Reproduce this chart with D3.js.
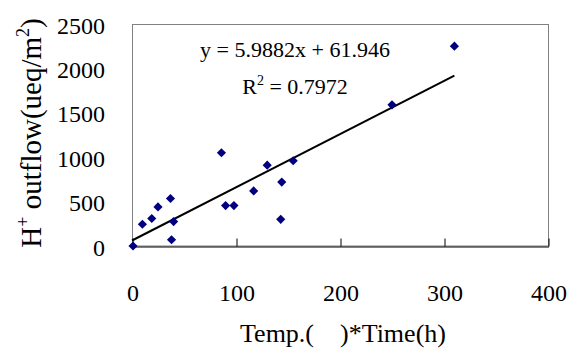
<!DOCTYPE html>
<html>
<head>
<meta charset="utf-8">
<script src="https://cdn.jsdelivr.net/npm/d3@7"></script>
<style>
  body { margin: 0; background: #fff; }
  svg text { font-family: 'Liberation Serif', 'Times New Roman', serif; fill: #000; }
</style>
</head>
<body>
<div id="chart-container"></div>
<script>
// Values
const tempTime = [1, 10, 19, 25, 37, 40, 38, 86, 90, 98, 117, 130, 144, 143, 155, 250, 310];
const hOutflow = [0, 245, 310, 440, 535, 275, 70, 1050, 455, 455, 620, 910, 720, 300, 960, 1590, 2250];
const xTicks = [0, 100, 200, 300, 400];
const yTicks = [0, 500, 1000, 1500, 2000, 2500];
const slope = 5.9882;
const intercept = 61.946;
const rSquared = 0.7972;

const margin = { top: 24, right: 23, bottom: 103, left: 132 };
const width = 571 - margin.left - margin.right;
const height = 349 - margin.top - margin.bottom;

const svg = d3.select('#chart-container')
  .append('svg')
  .attr('width', 571)
  .attr('height', 349)
  .append('g')
  .attr('transform', `translate(${margin.left},${margin.top})`);

const x = d3.scaleLinear().domain([0, 400]).range([0, width]);
const y = d3.scaleLinear().domain([0, 2500]).range([height, 0]);

// plot area border
svg.append('rect')
  .attr('x', 0.5)
  .attr('y', 0.5)
  .attr('width', width)
  .attr('height', height - 0.5)
  .attr('fill', 'none')
  .attr('stroke', '#808080')
  .attr('stroke-width', 1);

// x axis, ticks pointing inward
const xAxis = svg.append('g')
  .attr('transform', `translate(0.5,${height + 0.5})`)
  .call(d3.axisBottom(x).tickValues(xTicks).tickFormat(d3.format('d'))
    .tickSizeInner(-8).tickSizeOuter(0).tickPadding(37));
xAxis.select('.domain').attr('stroke', '#000');
xAxis.selectAll('line').attr('stroke', '#000');
xAxis.selectAll('text').style('font-size', '24px').style('font-family', "'Liberation Serif', serif");

// y axis, labels only
const yAxis = svg.append('g')
  .call(d3.axisLeft(y).tickValues(yTicks).tickFormat(d3.format('d')).tickSize(0).tickPadding(27));
yAxis.select('.domain').remove();
yAxis.selectAll('text')
  .attr('dy', '0.38em')
  .style('font-size', '24px')
  .style('font-family', "'Liberation Serif', serif");

// linear trendline over the data range
const trend = [0, d3.max(tempTime)].map(v => [v, slope * v + intercept]);
svg.append('path')
  .datum(trend)
  .attr('fill', 'none')
  .attr('stroke', '#000')
  .attr('stroke-width', 2)
  .attr('d', d3.line().x(d => x(d[0])).y(d => y(d[1])));

// diamond markers
const points = tempTime.map((t, i) => ({ t: t, h: hOutflow[i] }));
svg.selectAll('.dot')
  .data(points)
  .enter().append('path')
  .attr('class', 'dot')
  .attr('d', d3.symbol(d3.symbolSquare, 42))
  .attr('transform', d => `translate(${x(d.t)},${y(d.h)}) rotate(45)`)
  .attr('fill', '#000080');

// equation and R2
svg.append('text')
  .attr('x', 163)
  .attr('y', 33)
  .attr('text-anchor', 'middle')
  .style('font-size', '22px')
  .text(`y = ${slope}x + ${intercept}`);

const r2 = svg.append('text')
  .attr('x', 163)
  .attr('y', 70)
  .attr('text-anchor', 'middle')
  .style('font-size', '22px');
r2.append('tspan').text('R');
r2.append('tspan').attr('dy', -9).style('font-size', '14px').text('2');
r2.append('tspan').attr('dy', 9).text(` = ${rSquared}`);

// axis titles
svg.append('text')
  .attr('x', 211)
  .attr('y', height + 96)
  .attr('text-anchor', 'middle')
  .style('font-size', '26px')
  .style('white-space', 'pre')
  .text('Temp.(\u2003)*Time(h)');

const yTitle = svg.append('text')
  .attr('transform', `translate(${41 - margin.left},${133 - margin.top}) rotate(-90)`)
  .attr('text-anchor', 'middle')
  .style('font-size', '29px');
yTitle.append('tspan').text('H');
yTitle.append('tspan').attr('dy', -12).style('font-size', '18px').text('+');
yTitle.append('tspan').attr('dy', 12).text(' outflow(ueq/m');
yTitle.append('tspan').attr('dy', -12).style('font-size', '18px').text('2');
yTitle.append('tspan').attr('dy', 12).text(')');
</script>
</body>
</html>
